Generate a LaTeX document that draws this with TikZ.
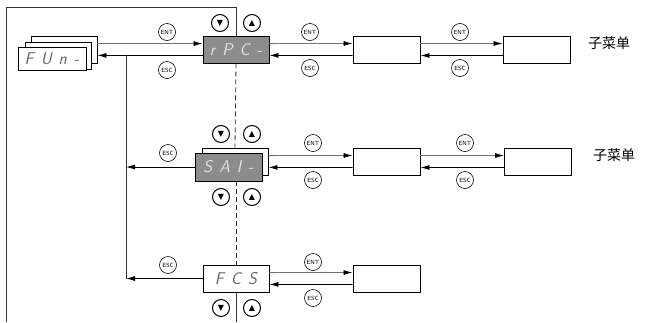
\documentclass[tikz,border=0pt]{standalone}
\usepackage{fontspec}
\newfontfamily\cjk{Noto Sans CJK SC}
\newfontfamily\symfont{DejaVu Sans}
\usepackage{xcolor}
\usetikzlibrary{arrows.meta, positioning}
\newcommand\segfont{\sffamily\itshape\fontsize{17}{17}\selectfont\spaceskip=7pt\relax}

\begin{document}
\begin{tikzpicture}[
    x=1pt, y=-1pt,
    disp/.style={rectangle, draw=black, line width=0.9pt, fill=white, minimum width=66pt, minimum height=27pt, inner sep=0pt, text=black!60, font=\segfont},
    lcd/.style={disp, fill=black!45, text=black!12},
    menu/.style={rectangle, draw=black, line width=0.9pt, minimum width=67pt, minimum height=27pt, inner sep=0pt},
    key/.style={circle, draw=black, line width=0.6pt, minimum size=17pt, inner sep=0pt, font=\sffamily\fontsize{6}{6}\selectfont},
    nav/.style={circle, draw=black, line width=1pt, minimum size=17pt, inner sep=0pt, font=\symfont\fontsize{8}{8}\selectfont},
    label/.style={font=\cjk\fontsize{14}{14}\selectfont},
    fwd/.style={draw=black!55, line width=0.8pt, -{Latex[length=9pt, width=5pt, color=black]}},
    back/.style={draw=black, line width=0.8pt, -{Latex[length=9pt, width=5pt]}},
    wire/.style={draw=black!80, line width=0.8pt}
]
\useasboundingbox (0,0) rectangle (645,322);

\node[disp] (fun3) at (64,49.5) {};
\node[disp] (fun2) at (58,55.5) {};
\node[disp, minimum width=68pt, minimum height=23pt] (fun1) at (52,59) {F U n -};

\node[lcd] (rpc) at (236,49.5) {r P C -};
\node[menu] (sub1a) at (386.5,49.5) {};
\node[menu] (sub1b) at (536.5,49.5) {};
\node[label] (lab1) at (609,43) {子菜单};

\node[disp] (saib) at (235,161.5) {};
\node[lcd, minimum width=67pt, minimum height=28pt] (saif) at (228.5,167) {S A I -};
\node[menu] (sub2a) at (386.5,161.5) {};
\node[menu] (sub2b) at (538,161.5) {};
\node[label] (lab2) at (614,155) {子菜单};

\node[disp] (fcs) at (236,278.5) {F C S};
\node[menu] (sub3a) at (386.5,278.5) {};

\coordinate (busx) at (126,0);
\coordinate (frametl) at (6,7);
\coordinate (frametr) at (rpc.north |- frametl);
\coordinate (framebl) at (6,322);
\coordinate (framebr) at (fcs.south |- framebl);

\node[key] (ent1) at (167,32) {ENT};
\node[key] (esc1) at (167,70) {ESC};
\node[key] (ent2) at (310,32) {ENT};
\node[key] (esc2) at (310,68) {ESC};
\node[key] (ent3) at (460,32) {ENT};
\node[key] (esc3) at (460,68) {ESC};
\node[nav] (dn1) at (220,23) {▼};
\node[nav] (up1) at (252,23) {▲};

\node[key] (esc4) at (168,153) {ESC};
\node[key] (ent5) at (313,143) {ENT};
\node[key] (esc5) at (313,180) {ESC};
\node[key] (ent6) at (465,143) {ENT};
\node[key] (esc6) at (465,180) {ESC};
\node[nav] (dn2) at (221,134) {▼};
\node[nav] (up2) at (252,134) {▲};
\node[nav] (dn3) at (221,197) {▼};
\node[nav] (up3) at (252,197) {▲};

\node[key] (esc7) at (168,265) {ESC};
\node[key] (ent8) at (313,262) {ENT};
\node[key] (esc8) at (313,298) {ESC};
\node[nav] (dn4) at (221,308) {▼};
\node[nav] (up4) at (252,308) {▲};

\draw[wire] (framebl) -- (frametl) -- (frametr) -- (rpc.north);
\draw[wire, dashed, dash pattern=on 5pt off 3pt] (rpc.south) -- (saib.north);
\draw[wire, dashed, dash pattern=on 5pt off 3pt] (saif.south -| rpc.south) -- (fcs.north);
\draw[wire] (fcs.south) -- (framebr);

\draw[fwd] (fun3.east |- rpc.170) -- (rpc.170);
\draw[back] (rpc.190) -- (fun3.east |- rpc.190);
\draw[fwd] (rpc.10) -- (sub1a.170);
\draw[back] (sub1a.190) -- (rpc.350);
\draw[fwd] (sub1a.10) -- (sub1b.170);
\draw[back] (sub1b.190) -- (sub1a.350);

\draw[wire] (busx |- rpc.190) -- (busx |- fcs.west);
\draw[back] (saif.west) -- (busx |- saif.west);
\draw[back] (fcs.west) -- (busx |- fcs.west);

\draw[fwd] (saib.10) -- (sub2a.170);
\draw[back] (sub2a.190) -- (saib.350);
\draw[fwd] (sub2a.10) -- (sub2b.170);
\draw[back] (sub2b.190) -- (sub2a.350);

\draw[fwd] (fcs.10) -- (sub3a.170);
\draw[back] (sub3a.190) -- (fcs.350);
\end{tikzpicture}
\end{document}
